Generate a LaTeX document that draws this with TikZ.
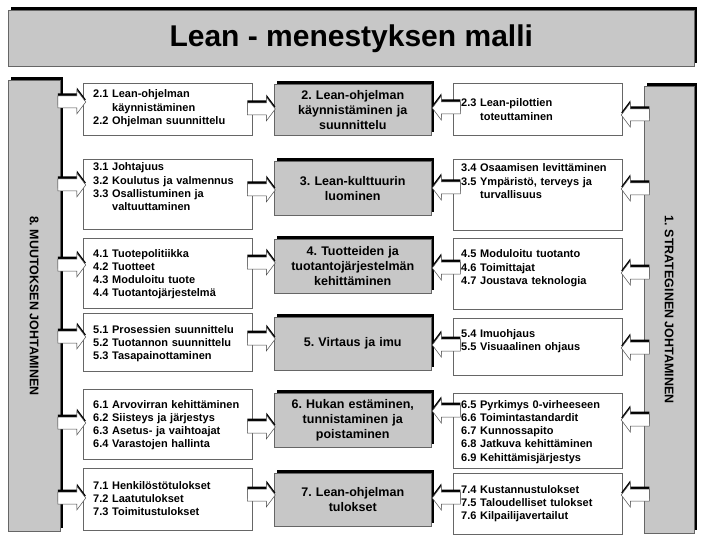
\documentclass[tikz,border=0pt]{standalone}
\usepackage{fontspec}
\setmainfont{Liberation Sans}
\frenchspacing
\usetikzlibrary{shadows, calc, positioning}

\tikzset{
  blackshadow/.style={drop shadow={shadow xshift=3pt, shadow yshift=3pt, fill=black, opacity=1}},
  greybox/.style={draw=black!60, line width=0.5pt, fill=black!22, blackshadow, anchor=north west, inner sep=0},
  whitebox/.style={draw=black!60, line width=0.6pt, fill=white, anchor=north west, inner sep=0, minimum width=169pt},
  midbox/.style={greybox, minimum width=157pt, minimum height=54pt, text width=150pt, align=center,
    font=\fontsize{12.5}{15}\selectfont\bfseries},
  item/.style={anchor=base west, inner sep=0, text width=165pt, align=left,
    font=\fontsize{11}{13.3}\selectfont\bfseries},
  barlabel/.style={rotate=-90, font=\fontsize{12.5}{15}\selectfont\bfseries}
}

% block arrow: #1 centre, #2 direction (1 = right, -1 = left)
\newcommand{\barrow}[2]{%
  \fill[black, shift={(2pt,2.5pt)}] #1 ++({-14*(#2)},-6) -- ++({19*(#2)},0) -- ++(0,-6)
    -- ++({9*(#2)},12) -- ++({-9*(#2)},12) -- ++(0,-6) -- ++({-19*(#2)},0) -- cycle;
  \filldraw[fill=white, draw=black!70, line width=0.5pt] #1 ++({-14*(#2)},-6) -- ++({19*(#2)},0) -- ++(0,-6)
    -- ++({9*(#2)},12) -- ++({-9*(#2)},12) -- ++(0,-6) -- ++({-19*(#2)},0) -- cycle;
}

\begin{document}
\begin{tikzpicture}[x=1pt, y=-1pt]
\useasboundingbox (0,0) rectangle (704,540);

% Title
\node[greybox, minimum width=686pt, minimum height=56pt,
    font=\fontsize{30}{36}\selectfont\bfseries] (title) at (8,10) {Lean - menestyksen malli};

% Side bars
\node[greybox, minimum width=52pt, minimum height=451pt] (lbar) at (8,80) {};
\node[barlabel] (lbartxt) at (lbar.center) {8. MUUTOKSEN JOHTAMINEN};

\node[greybox, minimum width=50pt, minimum height=447pt] (rbar) at (644,86) {};
\node[barlabel] (rbartxt) at (rbar.center) {1. STRATEGINEN JOHTAMINEN};

% Left boxes
\node[whitebox, minimum height=52pt] (l1) at (83,83) {};
\node[whitebox, minimum height=70pt] (l2) at (83,159) {};
\node[whitebox, minimum height=70pt] (l3) at (83,238) {};
\node[whitebox, minimum height=58pt] (l4) at (83,313) {};
\node[whitebox, minimum height=70pt] (l5) at (83,389) {};
\node[whitebox, minimum height=62pt] (l6) at (83,468) {};

% Middle boxes
\node[midbox, minimum height=51pt] (m1) at (274,84) {2. Lean-ohjelman\\ käynnistäminen ja\\ suunnittelu};
\node[midbox] (m2) at (274,161) {3. Lean-kulttuurin\\ luominen};
\node[midbox] (m3) at (274,239) {4. Tuotteiden ja\\ tuotantojärjestelmän\\ kehittäminen};
\node[midbox, minimum height=53pt] (m4) at (274,317) {5. Virtaus ja imu};
\node[midbox] (m5) at (274,393) {6. Hukan estäminen,\\ tunnistaminen ja\\ poistaminen};
\node[midbox, minimum height=53pt] (m6) at (274,473) {7. Lean-ohjelman\\ tulokset};

% Right boxes
\node[whitebox, minimum height=52pt] (r1) at (453,83) {};
\node[whitebox, minimum height=71pt] (r2) at (453,159) {};
\node[whitebox, minimum height=71pt] (r3) at (453,238) {};
\node[whitebox, minimum height=57pt] (r4) at (453,318) {};
\node[whitebox, minimum height=75pt] (r5) at (453,393) {};
\node[whitebox, minimum height=61pt] (r6) at (453,473) {};

% Arrows, bar -> left boxes
\barrow{($(lbar.east |- 0,102)!.5!(l1.west |- 0,102)$)}{1}
\barrow{($(lbar.east |- 0,185)!.5!(l2.west |- 0,185)$)}{1}
\barrow{($(lbar.east |- 0,265)!.5!(l3.west |- 0,265)$)}{1}
\barrow{($(lbar.east |- 0,337)!.5!(l4.west |- 0,337)$)}{1}
\barrow{($(lbar.east |- 0,423)!.5!(l5.west |- 0,423)$)}{1}
\barrow{($(lbar.east |- 0,498)!.5!(l6.west |- 0,498)$)}{1}

% Arrows, left boxes -> middle
\barrow{($(l1.east |- 0,109)!.5!(m1.west |- 0,109)+(-2,0)$)}{1}
\barrow{($(l2.east |- 0,190)!.5!(m2.west |- 0,190)+(-2,0)$)}{1}
\barrow{($(l3.east |- 0,263)!.5!(m3.west |- 0,263)+(-2,0)$)}{1}
\barrow{($(l4.east |- 0,339)!.5!(m4.west |- 0,339)+(-2,0)$)}{1}
\barrow{($(l5.east |- 0,427)!.5!(m5.west |- 0,427)+(-2,0)$)}{1}
\barrow{($(l6.east |- 0,495)!.5!(m6.west |- 0,495)+(-2,0)$)}{1}

% Arrows, right boxes -> middle
\barrow{($(m1.east |- 0,108)!.5!(r1.west |- 0,108)+(4,0)$)}{-1}
\barrow{($(m2.east |- 0,188)!.5!(r2.west |- 0,188)+(4,0)$)}{-1}
\barrow{($(m3.east |- 0,268)!.5!(r3.west |- 0,268)+(4,0)$)}{-1}
\barrow{($(m4.east |- 0,345)!.5!(r4.west |- 0,345)+(4,0)$)}{-1}
\barrow{($(m5.east |- 0,411)!.5!(r5.west |- 0,411)+(4,0)$)}{-1}
\barrow{($(m6.east |- 0,498)!.5!(r6.west |- 0,498)+(4,0)$)}{-1}

% Arrows, bar -> right boxes
\barrow{($(r1.east |- 0,115)!.5!(rbar.west |- 0,115)+(2,0)$)}{-1}
\barrow{($(r2.east |- 0,189)!.5!(rbar.west |- 0,189)+(2,0)$)}{-1}
\barrow{($(r3.east |- 0,273)!.5!(rbar.west |- 0,273)+(2,0)$)}{-1}
\barrow{($(r4.east |- 0,348)!.5!(rbar.west |- 0,348)+(2,0)$)}{-1}
\barrow{($(r5.east |- 0,420)!.5!(rbar.west |- 0,420)+(2,0)$)}{-1}
\barrow{($(r6.east |- 0,495)!.5!(rbar.west |- 0,495)+(2,0)$)}{-1}

% Texts of the left boxes
\node[item] (tl1) at ([shift={(10,15)}]l1.north west) {2.1 Lean-ohjelman\\ \phantom{2.1 }käynnistäminen\\ 2.2 Ohjelman suunnittelu};
\node[item] (tl2) at ([shift={(10,12)}]l2.north west) {3.1 Johtajuus\\ 3.2 Koulutus ja valmennus\\ 3.3 Osallistuminen ja\\ \phantom{3.3 }valtuuttaminen};
\node[item] (tl3) at ([shift={(10,19)}]l3.north west) {4.1 Tuotepolitiikka\\ 4.2 Tuotteet\\ 4.3 Moduloitu tuote\\ 4.4 Tuotantojärjestelmä};
\node[item] (tl4) at ([shift={(10,20)}]l4.north west) {5.1 Prosessien suunnittelu\\ 5.2 Tuotannon suunnittelu\\ 5.3 Tasapainottaminen};
\node[item] (tl5) at ([shift={(10,19)}]l5.north west) {6.1 Arvovirran kehittäminen\\ 6.2 Siisteys ja järjestys\\ 6.3 Asetus- ja vaihtoajat\\ 6.4 Varastojen hallinta};
\node[item] (tl6) at ([shift={(10,21)}]l6.north west) {7.1 Henkilöstötulokset\\ 7.2 Laatutulokset\\ 7.3 Toimitustulokset};

% Texts of the right boxes
\node[item] (tr1) at ([shift={(8,24)}]r1.north west) {2.3 Lean-pilottien\\ \phantom{2.3 }toteuttaminen};
\node[item] (tr2) at ([shift={(8,13)}]r2.north west) {3.4 Osaamisen levittäminen\\ 3.5 Ympäristö, terveys ja\\ \phantom{3.5 }turvallisuus};
\node[item] (tr3) at ([shift={(8,20)}]r3.north west) {4.5 Moduloitu tuotanto\\ 4.6 Toimittajat\\ 4.7 Joustava teknologia};
\node[item] (tr4) at ([shift={(8,19)}]r4.north west) {5.4 Imuohjaus\\ 5.5 Visuaalinen ohjaus};
\node[item] (tr5) at ([shift={(8,15)}]r5.north west) {6.5 Pyrkimys 0-virheeseen\\ 6.6 Toimintastandardit\\ 6.7 Kunnossapito\\ 6.8 Jatkuva kehittäminen\\ 6.9 Kehittämisjärjestys};
\node[item] (tr6) at ([shift={(8,20)}]r6.north west) {7.4 Kustannustulokset\\ 7.5 Taloudelliset tulokset\\ 7.6 Kilpailijavertailut};

\end{tikzpicture}
\end{document}
